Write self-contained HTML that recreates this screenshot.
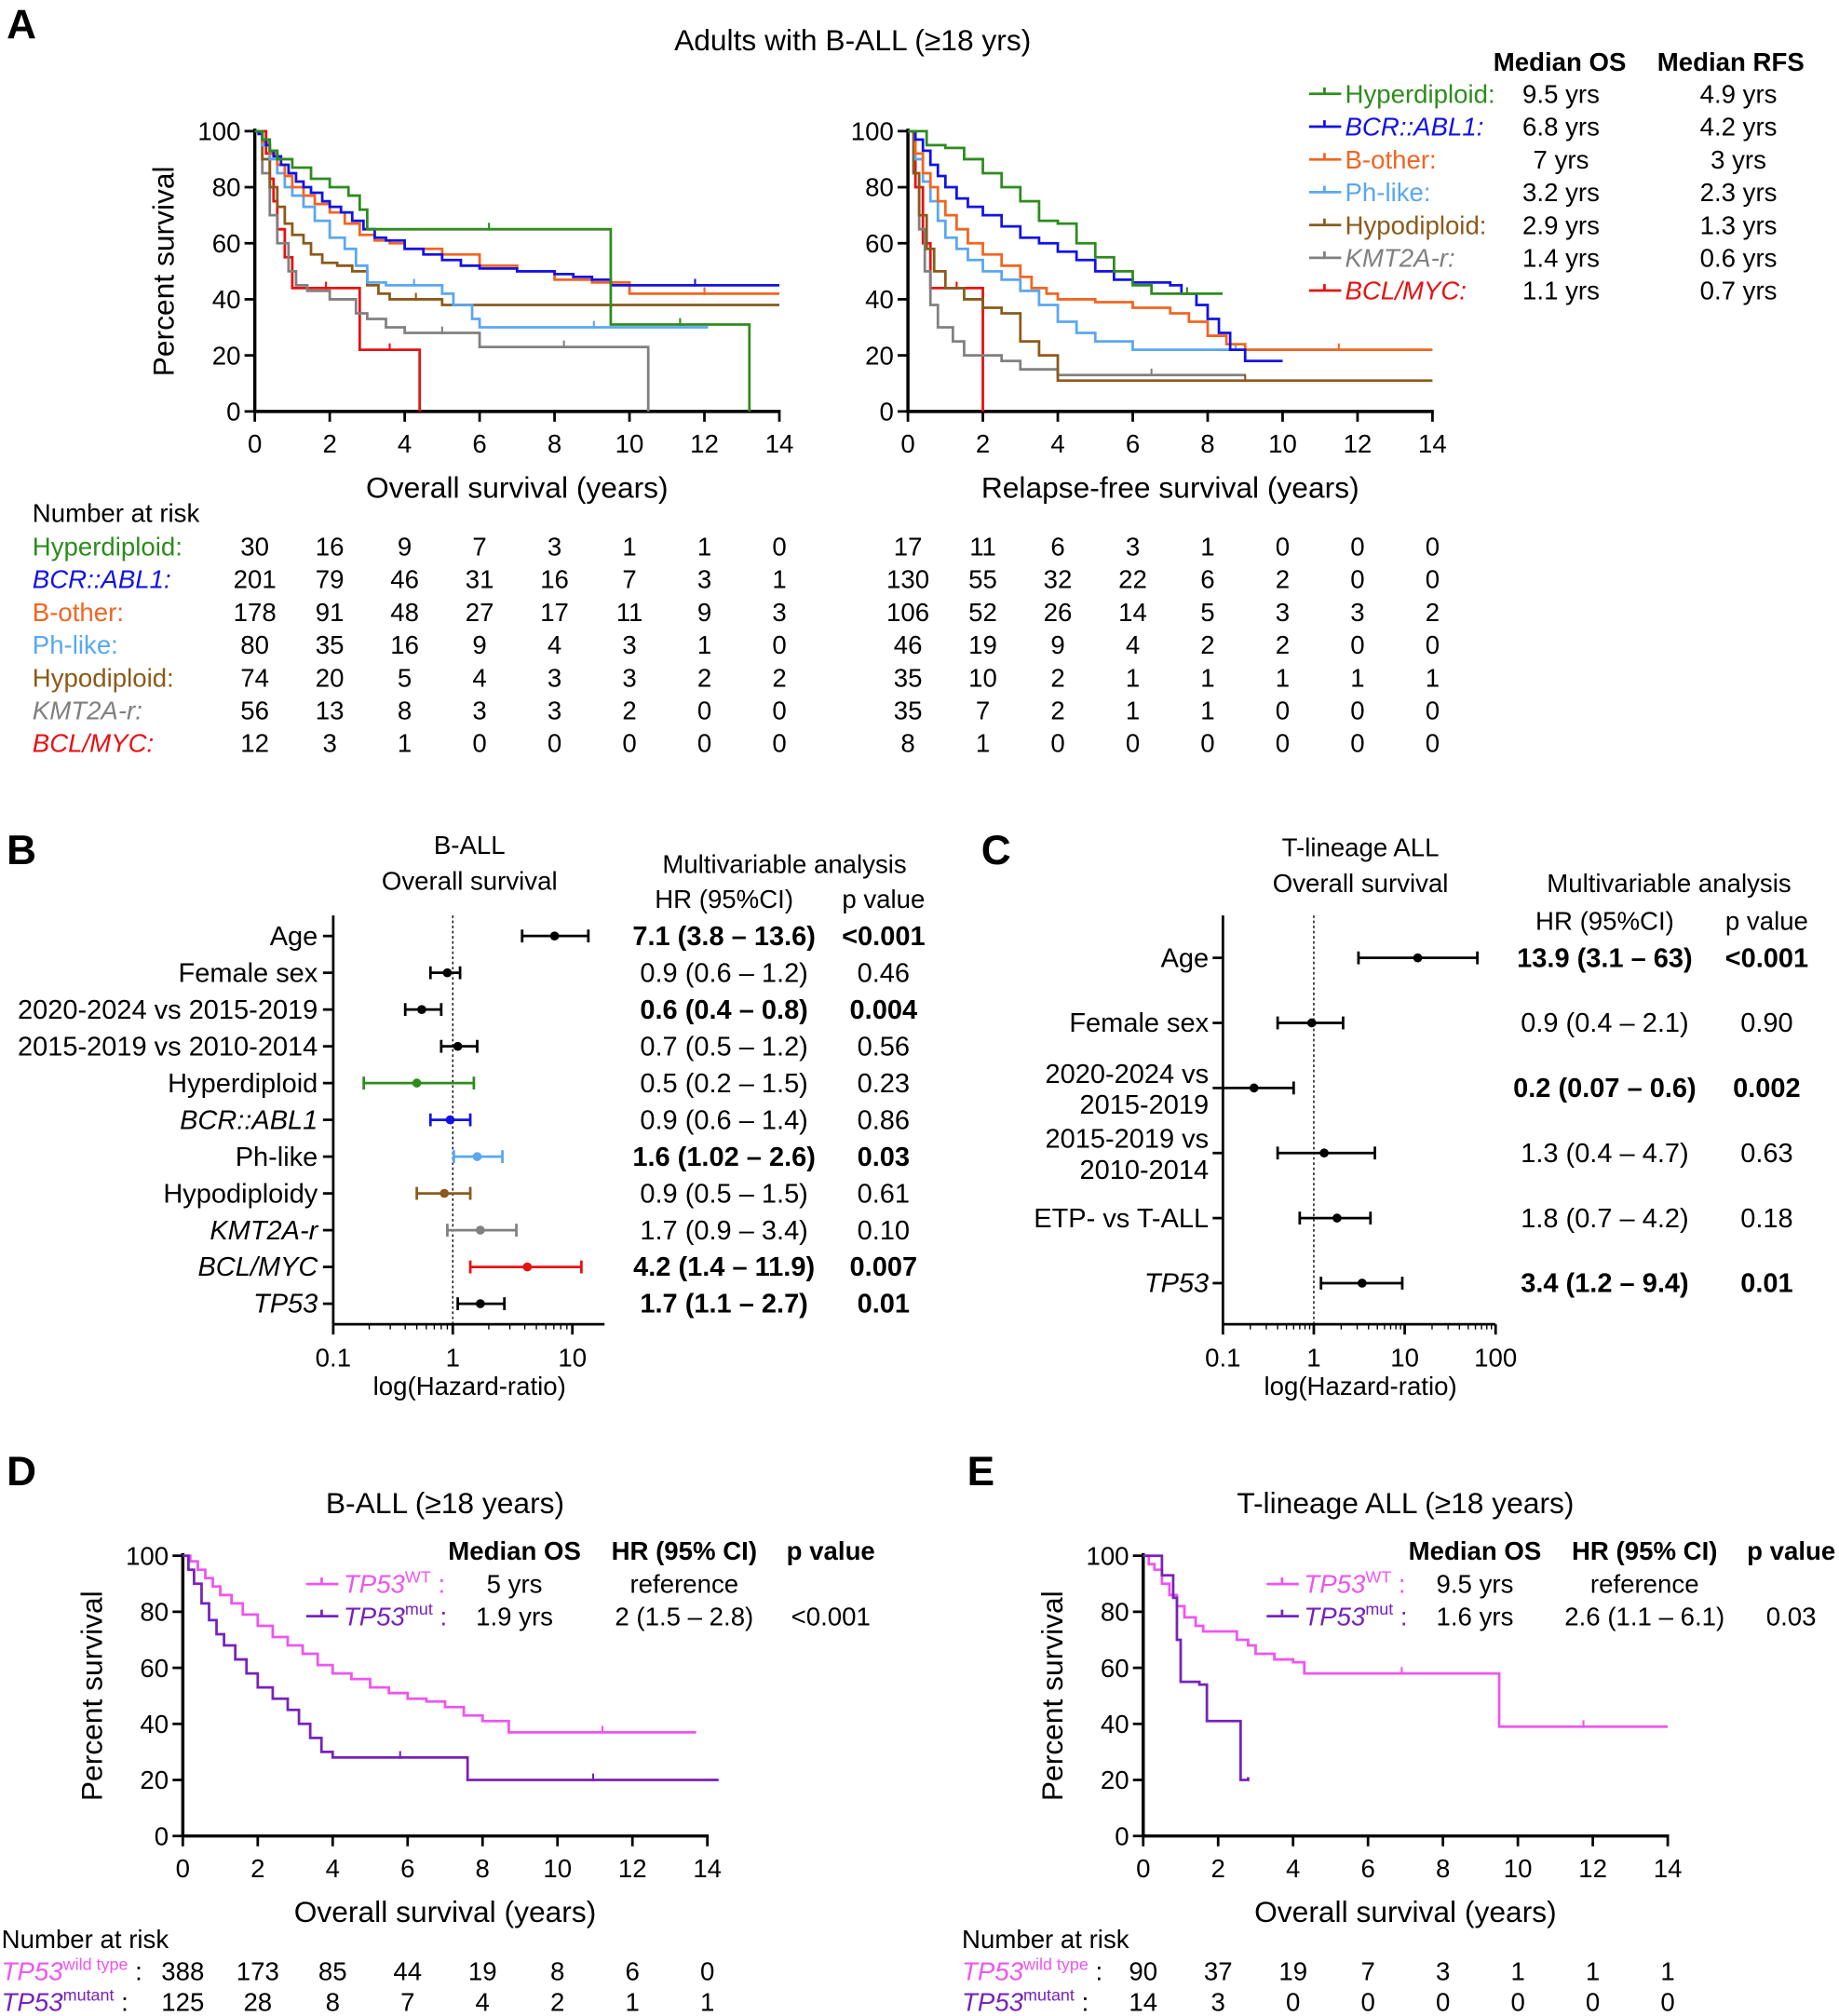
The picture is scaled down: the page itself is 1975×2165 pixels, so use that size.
<!DOCTYPE html>
<html><head><meta charset="utf-8">
<style>
html,body{margin:0;padding:0;background:#fff;}
svg{display:block;font-family:"Liberation Sans",Arial,sans-serif;}
</style></head>
<body>
<svg id="fig" width="1975" height="2165" viewBox="0 0 1430 1568" xmlns="http://www.w3.org/2000/svg">
<g id="root"></g>
</svg>
<script>
// ===== Data =====
const kmTimes = [0,2,4,6,8,10,12,14];
const groupNames = ["Hyperdiploid:","BCR::ABL1:","B-other:","Ph-like:","Hypodiploid:","KMT2A-r:","BCL/MYC:"];
const groupItalic = [false,true,false,false,false,true,true];
const groupColors = ["#2e8b1e","#1212e6","#f26522","#5aa7f0","#8b5a1a","#808080","#e81010"];
const medianOS = ["9.5 yrs","6.8 yrs","7 yrs","3.2 yrs","2.9 yrs","1.4 yrs","1.1 yrs"];
const medianRFS = ["4.9 yrs","4.2 yrs","3 yrs","2.3 yrs","1.3 yrs","0.6 yrs","0.7 yrs"];
// OS curves [time, survival]
const osHyper = [[0,100],[0.2,97],[0.4,93],[0.6,90],[1,87],[1.5,83],[2,80],[2.5,77],[2.8,72],[3,65],[9.5,31],[13.2,0]];
const osBcr = [[0,100],[0.1,99],[0.2,97],[0.3,95],[0.4,93],[0.5,91],[0.7,88],[0.9,85],[1.1,82],[1.3,80],[1.5,78],[1.8,75],[2,73],[2.3,71],[2.6,68],[2.9,65],[3.2,62],[3.5,61],[4,58],[4.5,56],[5,54],[5.5,52],[6,51],[7,50],[8,49],[8.5,48],[9,47],[9.5,45],[14,45]];
const osOther = [[0,100],[0.2,96],[0.4,92],[0.6,88],[0.8,84],[1,80],[1.3,77],[1.6,74],[2,71],[2.4,67],[2.8,63],[3.2,61],[3.6,60],[4,58],[5,56],[6,52],[7,50],[8,47],[9,46],[10,42],[14,42]];
const osPh = [[0,100],[0.2,95],[0.4,90],[0.6,85],[0.8,80],[1,77],[1.3,73],[1.6,68],[2,62],[2.4,58],[2.7,52],[3,46],[3.5,45],[5,42],[5.3,38],[5.8,33],[6,30],[12.1,30]];
const osHypo = [[0,100],[0.2,90],[0.4,80],[0.6,73],[0.8,67],[1,63],[1.3,60],[1.5,56],[1.8,53],[2.2,52],[2.6,50],[3,45],[3.3,42],[3.6,40],[5,38],[14,38]];
const osKmt = [[0,100],[0.2,85],[0.4,70],[0.6,60],[0.9,50],[1.1,45],[1.4,43],[2,40],[2.7,35],[3,33],[3.5,30],[4,28],[6,23],[10.5,0]];
const osBcl = [[0,100],[0.3,92],[0.4,83],[0.5,75],[0.6,65],[0.8,55],[1,44],[2.8,22],[4.4,0]];
// RFS curves
const rfsHyper = [[0,100],[0.5,95],[1,94],[1.5,90],[2,85],[2.5,80],[3,75],[3.5,68],[4,67],[4.5,60],[5,55],[5.5,50],[6,45],[6.5,42],[8.4,42]];
const rfsBcr = [[0,100],[0.2,97],[0.4,93],[0.6,88],[0.8,84],[1,80],[1.3,76],[1.6,73],[2,70],[2.5,66],[3,62],[3.5,60],[4,57],[4.5,54],[5,50],[5.5,47],[6,46],[7,45],[7.3,42],[7.7,38],[8,33],[8.3,28],[8.6,22],[9,18],[10,18]];
const rfsOther = [[0,100],[0.2,92],[0.4,85],[0.6,80],[0.8,75],[1,70],[1.3,65],[1.6,60],[2,56],[2.5,52],[3,48],[3.3,44],[3.7,42],[4,40],[5,39],[6,37],[7,35],[7.5,32],[8,27],[8.5,24],[9,22],[14,22]];
const rfsPh = [[0,100],[0.2,90],[0.4,82],[0.6,75],[0.8,68],[1,62],[1.3,58],[1.6,54],[2,50],[2.5,47],[3,43],[3.5,38],[4,32],[4.5,28],[5,25],[6,22],[11.5,22]];
const rfsHypo = [[0,100],[0.15,85],[0.3,70],[0.5,58],[0.7,50],[1,44],[1.5,40],[2,37],[2.5,35],[3,25],[3.5,20],[4,11],[14,11]];
const rfsKmt = [[0,100],[0.15,85],[0.3,65],[0.45,50],[0.6,38],[0.8,30],[1.2,25],[1.5,20],[2.5,18],[3,15],[4,13],[9,13]];
const rfsBcl = [[0,100],[0.2,80],[0.4,60],[0.6,44],[2,0]];
const osRisk = [[30,16,9,7,3,1,1,0],[201,79,46,31,16,7,3,1],[178,91,48,27,17,11,9,3],[80,35,16,9,4,3,1,0],[74,20,5,4,3,3,2,2],[56,13,8,3,3,2,0,0],[12,3,1,0,0,0,0,0]];
const rfsRisk = [[17,11,6,3,1,0,0,0],[130,55,32,22,6,2,0,0],[106,52,26,14,5,3,3,2],[46,19,9,4,2,2,0,0],[35,10,2,1,1,1,1,1],[35,7,2,1,1,0,0,0],[8,1,0,0,0,0,0,0]];
// Forest B
const fbLabels = ["Age","Female sex","2020-2024 vs 2015-2019","2015-2019 vs 2010-2014","Hyperdiploid","BCR::ABL1","Ph-like","Hypodiploidy","KMT2A-r","BCL/MYC","TP53"];
const fbItalic = [false,false,false,false,false,true,false,false,true,true,true];
const fbColors = ["#000","#000","#000","#000","#2e8b1e","#1212e6","#5aa7f0","#8b5a1a","#808080","#e81010","#000"];
const fbHR = [7.1,0.9,0.55,1.1,0.5,0.95,1.6,0.85,1.7,4.2,1.7];
const fbLo = [3.8,0.65,0.4,0.8,0.18,0.65,1.02,0.5,0.9,1.4,1.1];
const fbHi = [13.6,1.15,0.8,1.6,1.5,1.4,2.6,1.4,3.4,11.9,2.7];
const fbText = ["7.1 (3.8 – 13.6)","0.9 (0.6 – 1.2)","0.6 (0.4 – 0.8)","0.7 (0.5 – 1.2)","0.5 (0.2 – 1.5)","0.9 (0.6 – 1.4)","1.6 (1.02 – 2.6)","0.9 (0.5 – 1.5)","1.7 (0.9 – 3.4)","4.2 (1.4 – 11.9)","1.7 (1.1 – 2.7)"];
const fbP = ["<0.001","0.46","0.004","0.56","0.23","0.86","0.03","0.61","0.10","0.007","0.01"];
const fbBold = [true,false,true,false,false,false,true,false,false,true,true];
// Forest C
const fcLabels = [["Age"],["Female sex"],["2020-2024 vs","2015-2019"],["2015-2019 vs","2010-2014"],["ETP- vs T-ALL"],["TP53"]];
const fcHR = [13.9,0.95,0.22,1.3,1.8,3.4];
const fcLo = [3.1,0.4,0.07,0.4,0.7,1.2];
const fcHi = [63,2.1,0.6,4.7,4.2,9.4];
const fcText = ["13.9 (3.1 – 63)","0.9 (0.4 – 2.1)","0.2 (0.07 – 0.6)","1.3 (0.4 – 4.7)","1.8 (0.7 – 4.2)","3.4 (1.2 – 9.4)"];
const fcP = ["<0.001","0.90","0.002","0.63","0.18","0.01"];
const fcBold = [true,false,true,false,false,true];
// D/E
const dWT = [[0,100],[0.2,98],[0.4,95],[0.6,92],[0.8,89],[1,86],[1.3,83],[1.6,79],[2,75],[2.4,71],[2.8,68],[3.2,65],[3.6,61],[4,58],[4.5,56],[5,53],[5.5,51],[6,49],[6.5,48],[7,46],[7.5,43],[8,41],[8.7,37],[13.7,37]];
const dMut = [[0,100],[0.15,95],[0.3,90],[0.5,83],[0.7,77],[0.9,72],[1.1,68],[1.4,63],[1.7,58],[2,53],[2.4,49],[2.8,45],[3.1,40],[3.4,35],[3.7,30],[4,28],[7.6,20],[14.3,20]];
const eWT = [[0,100],[0.15,97],[0.3,95],[0.5,90],[0.7,86],[0.9,82],[1.1,78],[1.4,75],[1.6,73],[2.5,70],[2.8,68],[3,65],[3.5,63],[4,62],[4.3,58],[9.5,39],[14,39]];
const eMut = [[0,100],[0.5,93],[0.8,85],[0.9,70],[1,55],[1.5,54],[1.7,41],[2.5,41],[2.6,20],[2.8,21]];
const dRisk = [[388,173,85,44,19,8,6,0],[125,28,8,7,4,2,1,1]];
const eRisk = [[90,37,19,7,3,1,1,1],[14,3,0,0,0,0,0,0]];

// ===== Helpers =====
const NS="http://www.w3.org/2000/svg";
const root=document.getElementById('root');
function el(tag,attrs,parent){const e=document.createElementNS(NS,tag);for(const k in attrs)e.setAttribute(k,attrs[k]);(parent||root).appendChild(e);return e;}
function txt(x,y,s,o){o=o||{};const t=el('text',{x:x,y:y,'font-size':o.size||20,'text-anchor':o.anchor||'start',fill:o.fill||'#000','font-weight':o.bold?'bold':'normal','font-style':o.italic?'italic':'normal'},o.parent);t.textContent=s;return t;}
function linearX(x0,x1,max){return v=>x0+(x1-x0)*v/max;}
function linearY(y0,y1){return v=>y0+(y1-y0)*v/100;}
function kmAxes(x0,x1,y0,y1,xmax,xlabel,ylabel,name){
  const g=el('g',{});
  const X=linearX(x0,x1,xmax),Y=linearY(y0,y1);
  el('line',{x1:x0,y1:y1-2,x2:x0,y2:y0+1,stroke:'#000','stroke-width':2.5},g);
  el('line',{x1:x0-1,y1:y0,x2:x1+1,y2:y0,stroke:'#000','stroke-width':2.5},g);
  for(let v=0;v<=100;v+=20){el('line',{x1:x0-8,y1:Y(v),x2:x0,y2:Y(v),stroke:'#000','stroke-width':2},g);txt(x0-11,Y(v)+7,String(v),{anchor:'end',parent:g,name:'y-tick-label'});}
  for(let v=0;v<=xmax;v+=2){el('line',{x1:X(v),y1:y0,x2:X(v),y2:y0+8,stroke:'#000','stroke-width':2},g);txt(X(v),y0+32,String(v),{anchor:'middle',parent:g,name:'x-tick-label'});}
  txt((x0+x1)/2,y0+67,xlabel,{anchor:'middle',size:23,parent:g,name:'x-axis-title'});
  if(ylabel){const t=txt(0,0,ylabel,{anchor:'middle',size:23,parent:g,name:'y-axis-title'});t.setAttribute('transform',`translate(${x0-63},${(y0+y1)/2}) rotate(-90)`);}
  return {X,Y};
}
function kmCurve(ax,pts,color,name){
  let d=`M${ax.X(pts[0][0])},${ax.Y(pts[0][1])}`;
  for(let i=1;i<pts.length;i++){d+=` H${ax.X(pts[i][0])} V${ax.Y(pts[i][1])}`;}
  const p=el('path',{d:d,fill:'none',stroke:color,'stroke-width':2});
  
  for(let i=1;i<pts.length;i++){const a=pts[i-1],b=pts[i];if(b[0]-a[0]>1.2){const m=(a[0]+b[0])/2;el('line',{x1:ax.X(m),y1:ax.Y(a[1])-5,x2:ax.X(m),y2:ax.Y(a[1])+1,stroke:color,'stroke-width':1.5});}}
}
function riskRow(xs,y,vals,name){vals.forEach((v,i)=>txt(xs(kmTimes[i]),y,String(v),{anchor:'middle',name:name}));}

// ===== Panel A =====
txt(5,30,"A",{size:32,bold:true,name:'panel-label-a'});
txt(663,39,"Adults with B-ALL (≥18 yrs)",{anchor:'middle',size:23,name:'panel-a-title'});
const axOS=kmAxes(198,606,320,102,14,"Overall survival (years)","Percent survival","os-axes");
const axRFS=kmAxes(706,1114,320,102,14,"Relapse-free survival (years)",null,"rfs-axes");
const osCurves=[osHyper,osBcr,osOther,osPh,osHypo,osKmt,osBcl];
const rfsCurves=[rfsHyper,rfsBcr,rfsOther,rfsPh,rfsHypo,rfsKmt,rfsBcl];
const slug=["hyperdiploid","bcr-abl1","b-other","ph-like","hypodiploid","kmt2a-r","bcl-myc"];
for(let i=6;i>=0;i--){kmCurve(axOS,osCurves[i],groupColors[i],'os-curve-'+slug[i]);kmCurve(axRFS,rfsCurves[i],groupColors[i],'rfs-curve-'+slug[i]);}
txt(1213,55,"Median OS",{anchor:'middle',bold:true,name:'legend-header-os'});
txt(1346,55,"Median RFS",{anchor:'middle',bold:true,name:'legend-header-rfs'});
groupNames.forEach((n,i)=>{const y=80+i*25.5;
  el('line',{x1:1018,y1:y-7,x2:1043,y2:y-7,stroke:groupColors[i],'stroke-width':2});
  el('line',{x1:1030,y1:y-12,x2:1030,y2:y-7,stroke:groupColors[i],'stroke-width':2});
  txt(1046,y,n,{fill:groupColors[i],italic:groupItalic[i],name:'legend-entry-'+slug[i]});
  txt(1214,y,medianOS[i],{anchor:'middle',name:'median-os'});
  txt(1352,y,medianRFS[i],{anchor:'middle',name:'median-rfs'});
});
txt(25,406,"Number at risk",{name:'risk-table-title'});
groupNames.forEach((n,i)=>{const y=432+i*25.5;
  txt(25,y,n,{fill:groupColors[i],italic:groupItalic[i],name:'risk-label-'+slug[i]});
  riskRow(axOS.X,y,osRisk[i],'os-risk-value');riskRow(axRFS.X,y,rfsRisk[i],'rfs-risk-value');
});

// ===== Forest helper =====
function forest(cfg){
  const {x0,x1,lo10,y0,ytop,rowY,name}=cfg;
  const g=el('g',{});
  const X=v=>x0+(Math.log10(v)-lo10)*cfg.dec;
  el('line',{x1:x0,y1:ytop,x2:x0,y2:y0,stroke:'#000','stroke-width':2},g);
  el('line',{x1:x0,y1:y0,x2:x1,y2:y0,stroke:'#000','stroke-width':2},g);
  el('line',{x1:X(1),y1:ytop,x2:X(1),y2:y0,stroke:'#000','stroke-width':1,'stroke-dasharray':'2,2'},g);
  cfg.ticks.forEach((t,i)=>{el('line',{x1:X(t),y1:y0,x2:X(t),y2:y0+8,stroke:'#000','stroke-width':2},g);txt(X(t),y0+33,cfg.tickLabels[i],{anchor:'middle',parent:g,name:'x-tick-label'});});
  cfg.ticks.slice(0,-1).forEach(t=>{for(let k=2;k<10;k++)el('line',{x1:X(t*k),y1:y0,x2:X(t*k),y2:y0+4,stroke:'#000','stroke-width':1},g);});
  txt(cfg.xlabX,y0+55,"log(Hazard-ratio)",{anchor:'middle',parent:g,name:'x-axis-title'});
  cfg.hr.forEach((h,i)=>{const y=rowY[i],c=cfg.colors?cfg.colors[i]:'#000';
    el('line',{x1:x0-8,y1:y,x2:x0,y2:y,stroke:'#000','stroke-width':2},g);
    const a=Math.max(X(cfg.lo[i]),x0),b=X(cfg.hi[i]);
    el('line',{x1:a,y1:y,x2:b,y2:y,stroke:c,'stroke-width':2},g);
    if(X(cfg.lo[i])>=x0)el('line',{x1:a,y1:y-5,x2:a,y2:y+5,stroke:c,'stroke-width':2},g);
    el('line',{x1:b,y1:y-5,x2:b,y2:y+5,stroke:c,'stroke-width':2},g);
    const pt=el('circle',{cx:X(h),cy:y,r:3.5,fill:c},g);
  });
}
// ===== Panel B =====
txt(5,672,"B",{size:32,bold:true,name:'panel-label-b'});
txt(365,664,"B-ALL",{anchor:'middle',name:'panel-b-title'});
txt(365,692,"Overall survival",{anchor:'middle',name:'panel-b-subtitle'});
txt(610,679,"Multivariable analysis",{anchor:'middle',name:'panel-b-table-title'});
txt(563,706,"HR (95%CI)",{anchor:'middle',name:'hr-header'});
txt(687,706,"p value",{anchor:'middle',name:'p-header'});
const fbY=fbHR.map((_,i)=>728+i*28.6);
forest({x0:259,x1:470,lo10:-1,dec:93,y0:1030,ytop:712,rowY:fbY,hr:fbHR,lo:fbLo,hi:fbHi,colors:fbColors,ticks:[0.1,1,10],tickLabels:["0.1","1","10"],xlabX:365,name:'forest-b'});
fbLabels.forEach((l,i)=>{txt(247,fbY[i]+7,l,{anchor:'end',size:21,italic:fbItalic[i],name:'forest-b-row-label'});
  txt(563,fbY[i]+7,fbText[i],{anchor:'middle',size:21,bold:fbBold[i],name:'hr-value'});
  txt(687,fbY[i]+7,fbP[i],{anchor:'middle',size:21,bold:fbBold[i],name:'p-value'});});

// ===== Panel C =====
txt(763,672,"C",{size:32,bold:true,name:'panel-label-c'});
txt(1058,666,"T-lineage ALL",{anchor:'middle',name:'panel-c-title'});
txt(1058,694,"Overall survival",{anchor:'middle',name:'panel-c-subtitle'});
txt(1298,694,"Multivariable analysis",{anchor:'middle',name:'panel-c-table-title'});
txt(1248,723,"HR (95%CI)",{anchor:'middle',name:'hr-header'});
txt(1374,723,"p value",{anchor:'middle',name:'p-header'});
const fcY=fcHR.map((_,i)=>745+i*50.6);
forest({x0:951,x1:1163,lo10:-1,dec:70.7,y0:1030,ytop:712,rowY:fcY,hr:fcHR,lo:fcLo,hi:fcHi,ticks:[0.1,1,10,100],tickLabels:["0.1","1","10","100"],xlabX:1058,name:'forest-c'});
fcLabels.forEach((l,i)=>{
  if(l.length===1)txt(940,fcY[i]+7,l[0],{anchor:'end',size:21,italic:l[0]==="TP53",name:'forest-c-row-label'});
  else{txt(940,fcY[i]-4,l[0],{anchor:'end',size:21,name:'forest-c-row-label'});txt(940,fcY[i]+20,l[1],{anchor:'end',size:21,name:'forest-c-row-label'});}
  txt(1248,fcY[i]+7,fcText[i],{anchor:'middle',size:21,bold:fcBold[i],name:'hr-value'});
  txt(1374,fcY[i]+7,fcP[i],{anchor:'middle',size:21,bold:fcBold[i],name:'p-value'});});

// ===== Panel D / E =====
const WT="#ee55ee",MUT="#7722bb";
function tp53Panel(px,letter,title,axX0,wt,mut,risk,med,hr,p,prefix){
  txt(px,1155,letter,{size:32,bold:true,name:'panel-label-'+letter.toLowerCase()});
  const ax=kmAxes(axX0,axX0+408,1428,1210,14,"Overall survival (years)","Percent survival",prefix+'-axes');
  txt(axX0+204,1177,title,{anchor:'middle',size:23,name:prefix+'-title'});
  kmCurve(ax,wt,WT,prefix+'-curve-wt');kmCurve(ax,mut,MUT,prefix+'-curve-mut');
  const lx=axX0+96;
  txt(lx+162,1213,"Median OS",{anchor:'middle',bold:true,name:'legend-header'});
  txt(lx+294,1213,"HR (95% CI)",{anchor:'middle',bold:true,name:'legend-header'});
  txt(lx+408,1213,"p value",{anchor:'middle',bold:true,name:'legend-header'});
  [[WT,"WT",1239,0],[MUT,"mut",1264,1]].forEach(r=>{
    el('line',{x1:lx,y1:r[2]-7,x2:lx+25,y2:r[2]-7,stroke:r[0],'stroke-width':2});
    el('line',{x1:lx+12,y1:r[2]-12,x2:lx+12,y2:r[2]-7,stroke:r[0],'stroke-width':2});
    const t=txt(lx+29,r[2],"",{fill:r[0],italic:true,name:'legend-entry-'+r[1]});
    t.innerHTML=`TP53<tspan font-size="13" dy="-8" font-style="normal">${r[1]}</tspan><tspan dy="8" font-style="normal"> :</tspan>`;
    txt(lx+162,r[2],med[r[3]],{anchor:'middle',name:'median-os'});
    txt(lx+294,r[2],hr[r[3]],{anchor:'middle',name:'hr-value'});
    if(r[3]===1)txt(lx+408,r[2],p,{anchor:'middle',name:'p-value'});
  });
  txt(px-4,1515,"Number at risk",{name:'risk-table-title'});
  [[WT,"wild type",1540],[MUT,"mutant",1564]].forEach((r,k)=>{
    const t=txt(px-4,r[2],"",{fill:r[0],italic:true,name:'risk-label'});
    t.innerHTML=`TP53<tspan font-size="13" dy="-8" font-style="normal">${r[1]}</tspan><tspan dy="8" fill="#000" font-style="normal"> :</tspan>`;
    riskRow(ax.X,r[2],risk[k],'risk-value');
  });
}
tp53Panel(5,"D","B-ALL (≥18 years)",142,dWT,dMut,dRisk,["5 yrs","1.9 yrs"],["reference","2 (1.5 – 2.8)"],"<0.001","panel-d");
tp53Panel(752,"E","T-lineage ALL (≥18 years)",889,eWT,eMut,eRisk,["9.5 yrs","1.6 yrs"],["reference","2.6 (1.1 – 6.1)"],"0.03","panel-e");
</script>
</body></html>
